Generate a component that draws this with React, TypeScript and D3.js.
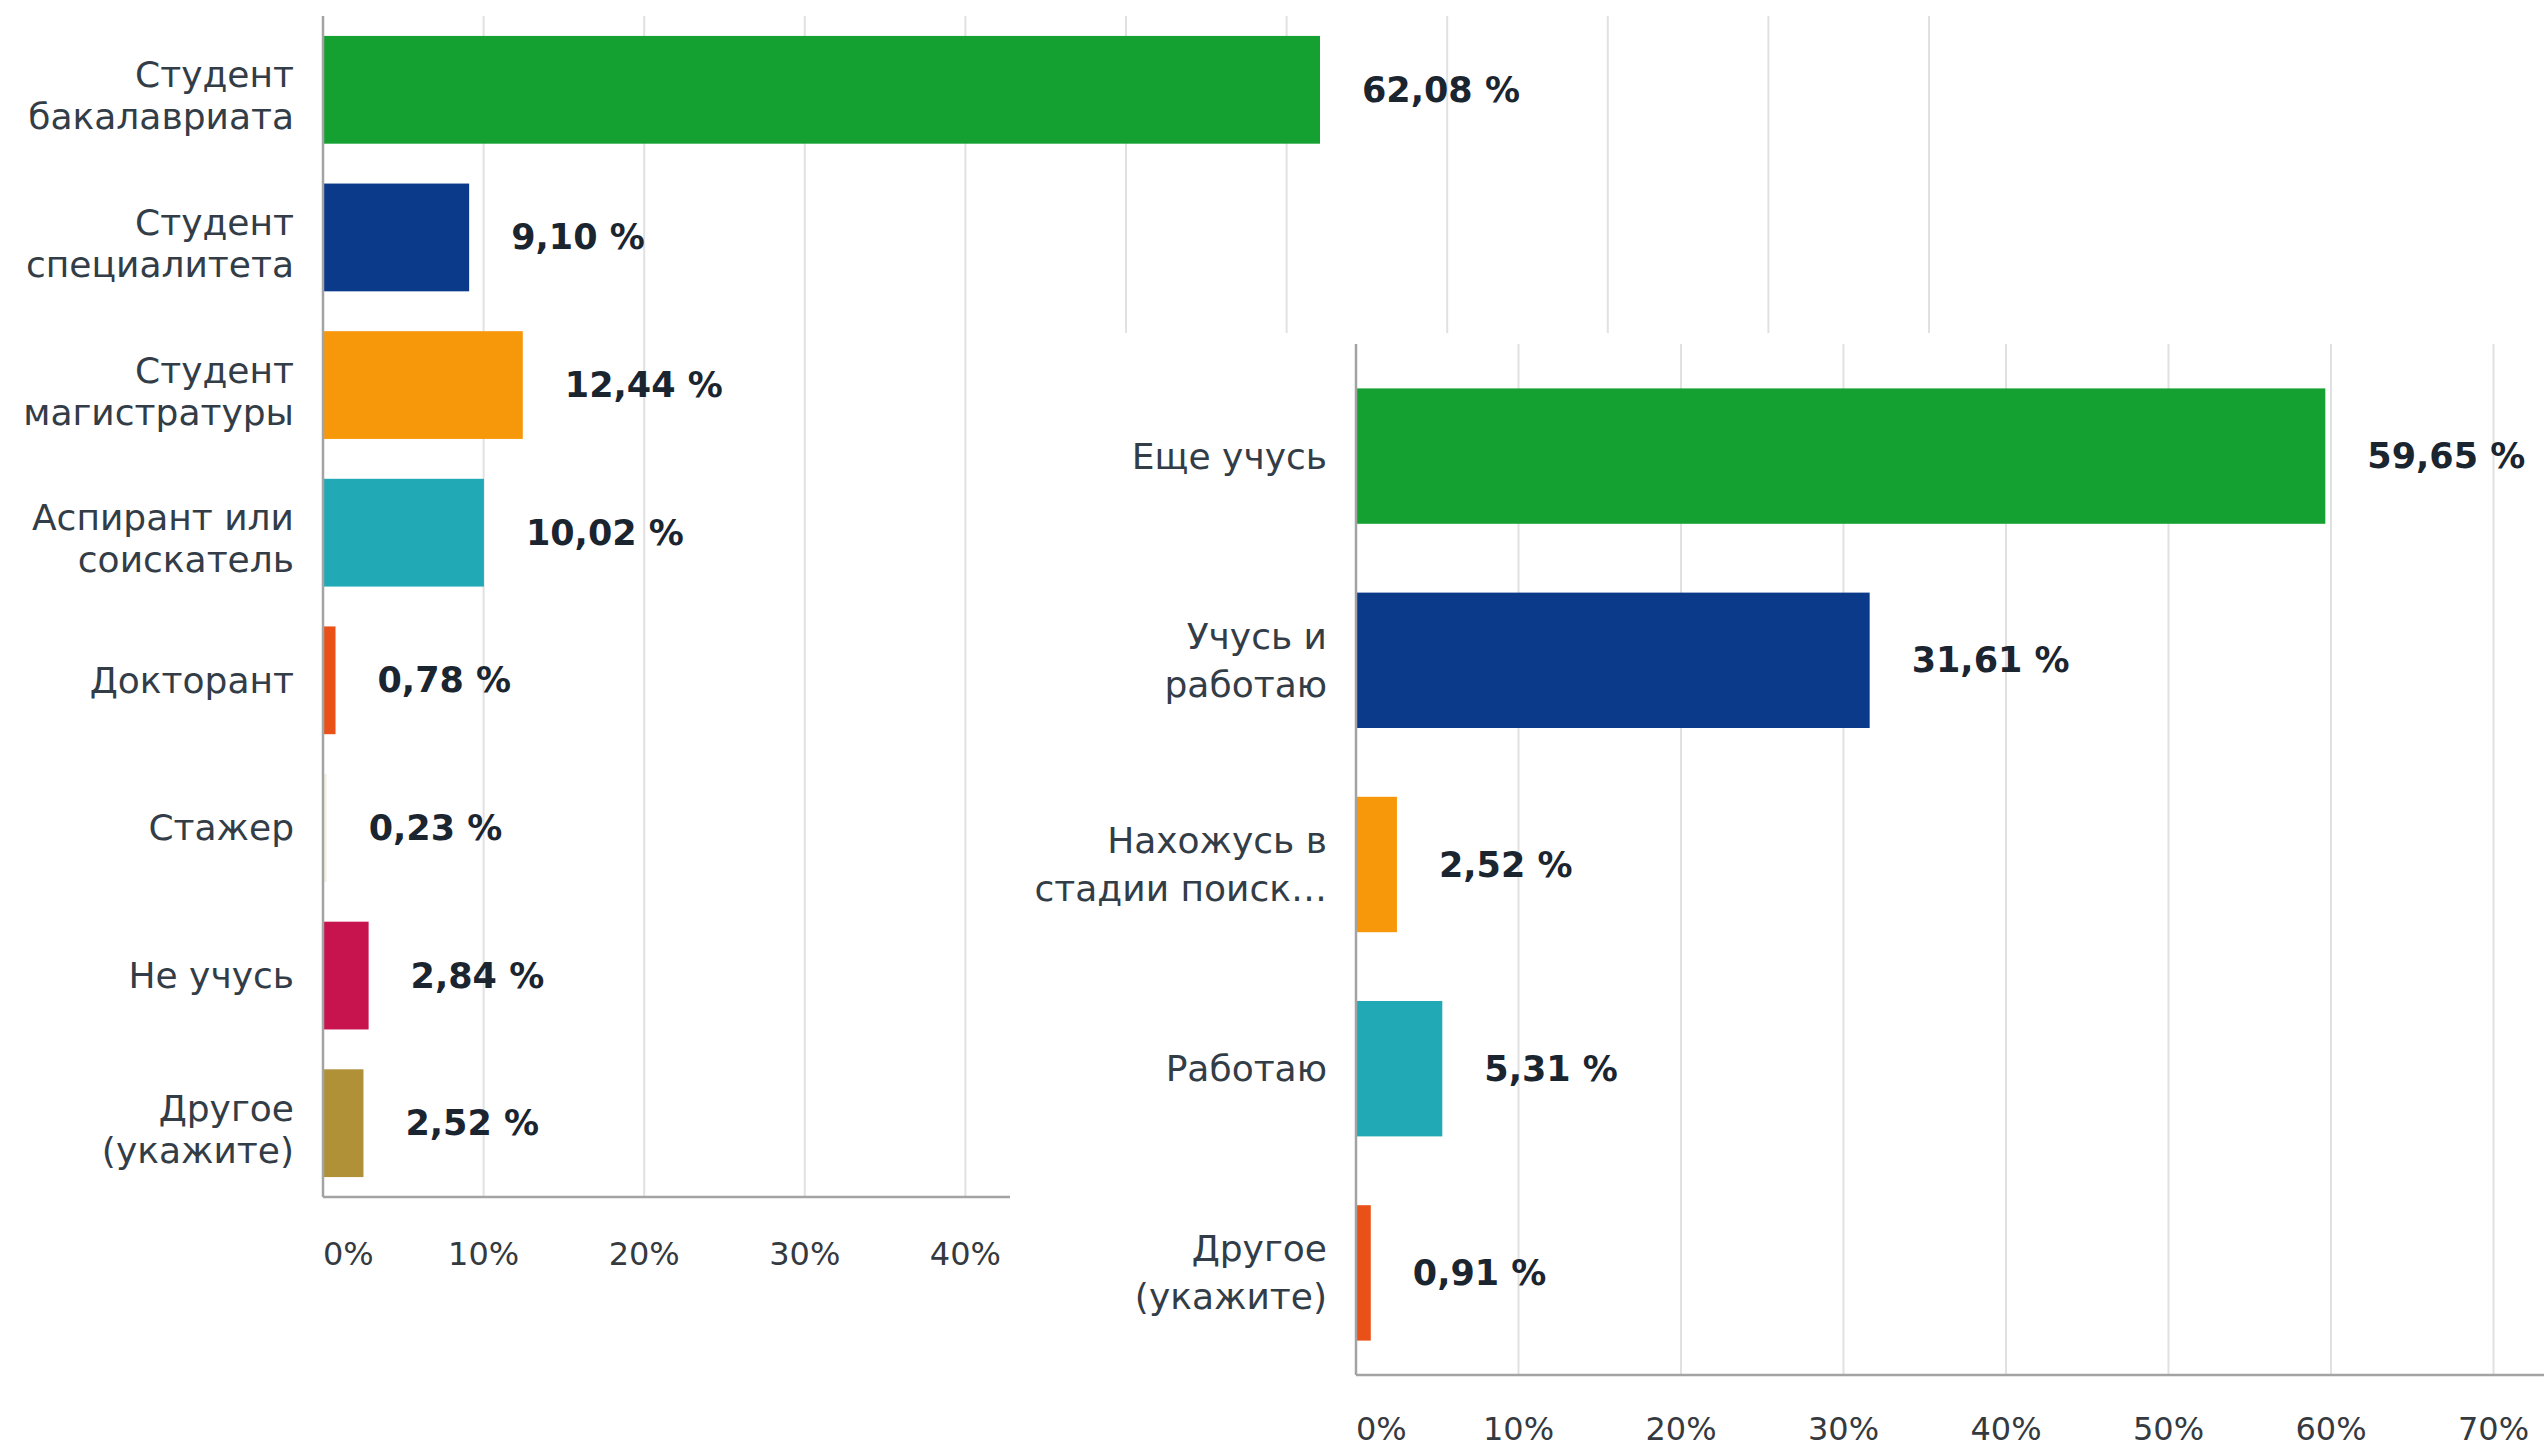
import * as d3 from 'd3'

const W = 2544
const H = 1451

// left chart: status
const statusCats = [
  'Студент|бакалавриата',
  'Студент|специалитета',
  'Студент|магистратуры',
  'Аспирант или|соискатель',
  'Докторант',
  'Стажер',
  'Не учусь',
  'Другое|(укажите)',
]
const statusValues = [62.08, 9.1, 12.44, 10.02, 0.78, 0.23, 2.84, 2.52]
const statusColors = ['#14a131', '#0b3a8a', '#f7980a', '#21aab6', '#ea5118', '#f3f0e4', '#c8144e', '#b19137']
const statusGrid = [10, 20, 30, 40, 50, 60, 70, 80, 90, 100]
// only these labels show; the rest sit under the second chart
const statusTickLabels = [0, 10, 20, 30, 40]

// right chart: occupation
const workCats = [
  'Еще учусь',
  'Учусь и|работаю',
  'Нахожусь в|стадии поиск…',
  'Работаю',
  'Другое|(укажите)',
]
const workValues = [59.65, 31.61, 2.52, 5.31, 0.91]
const workColors = ['#14a131', '#0b3a8a', '#f7980a', '#21aab6', '#ea5118']
const workGrid = [10, 20, 30, 40, 50, 60, 70]
const workTickLabels = [0, 10, 20, 30, 40, 50, 60, 70]

const FONT = '"DejaVu Sans", sans-serif'
const fmt = (v: number) => v.toFixed(2).replace('.', ',') + ' %'

type PanelProps = {
  cats: string[]
  values: number[]
  colors: string[]
  grid: number[]
  tickLabels: number[]
  x0: number
  x1: number
  domainMax: number
  top: number
  bottom: number
  gridTop: number
  padInner: number
  axisEnd: number
  tickY: number
  lineGap: number
  multiShift: number
}

function BarPanel(p: PanelProps) {
  const x = d3.scaleLinear().domain([0, p.domainMax]).range([p.x0, p.x1])
  const y = d3.scaleBand<string>()
    .domain(p.cats)
    .range([p.top, p.bottom])
    .paddingInner(p.padInner)
    .paddingOuter(p.padInner / 2)

  return (
    <g>
      {/* grid */}
      {p.grid.map(t => (
        <line key={t} x1={x(t)} x2={x(t)} y1={p.gridTop} y2={p.bottom}
          stroke="#e1e1e1" strokeWidth={2} />
      ))}
      {/* bars */}
      {p.cats.map((c, i) => (
        <rect key={c} x={x(0)} y={y(c)} width={x(p.values[i]) - x(0)}
          height={y.bandwidth()} fill={p.colors[i]} />
      ))}
      {/* axes */}
      <line x1={p.x0} x2={p.x0} y1={p.gridTop} y2={p.bottom} stroke="#a3a3a3" strokeWidth={2.5} />
      <line x1={p.x0} x2={p.axisEnd} y1={p.bottom} y2={p.bottom} stroke="#a3a3a3" strokeWidth={2.5} />
      {/* category labels */}
      {p.cats.map(c => {
        const lines = c.split('|')
        const cy = (y(c) ?? 0) + y.bandwidth() / 2 + (lines.length > 1 ? p.multiShift : 0)
        return (
          <text key={c} x={p.x0 - 29} textAnchor="end" fontFamily={FONT} fontSize={36} fill="#333d47">
            {lines.map((l, j) => (
              <tspan key={j} x={p.x0 - 29} y={cy + (j - (lines.length - 1) / 2) * p.lineGap}
                dominantBaseline="central">{l}</tspan>
            ))}
          </text>
        )
      })}
      {/* value labels */}
      {p.cats.map((c, i) => (
        <text key={c} x={x(p.values[i]) + 42} y={(y(c) ?? 0) + y.bandwidth() / 2}
          dominantBaseline="central" fontFamily={FONT} fontWeight="bold" fontSize={35} fill="#1b2530">
          {fmt(p.values[i])}
        </text>
      ))}
      {/* tick labels */}
      {p.tickLabels.map(t => (
        <text key={t} x={x(t)} y={p.tickY} textAnchor={t === 0 ? 'start' : 'middle'}
          dominantBaseline="central" fontFamily={FONT} fontSize={32} fill="#343a40">
          {t}%
        </text>
      ))}
    </g>
  )
}

export default function App() {
  return (
    <svg width={W} height={H} style={{ position: 'absolute', left: 0, top: 0, background: '#fff' }}>
      <rect width={W} height={H} fill="#fff" />
      <BarPanel cats={statusCats} values={statusValues} colors={statusColors}
        grid={statusGrid} tickLabels={statusTickLabels}
        x0={323} x1={1929} domainMax={100} top={16} bottom={1197} gridTop={16}
        padInner={0.27} axisEnd={1929} tickY={1254} lineGap={42} multiShift={6} />
      {/* second chart sits over the first one on a white card */}
      <rect x={1010} y={333} width={W - 1010} height={H - 333} fill="#fff" />
      <BarPanel cats={workCats} values={workValues} colors={workColors}
        grid={workGrid} tickLabels={workTickLabels}
        x0={1356} x1={1356 + 1625} domainMax={100} top={354} bottom={1375} gridTop={344}
        padInner={0.337} axisEnd={W} tickY={1429} lineGap={48} multiShift={0} />
    </svg>
  )
}
